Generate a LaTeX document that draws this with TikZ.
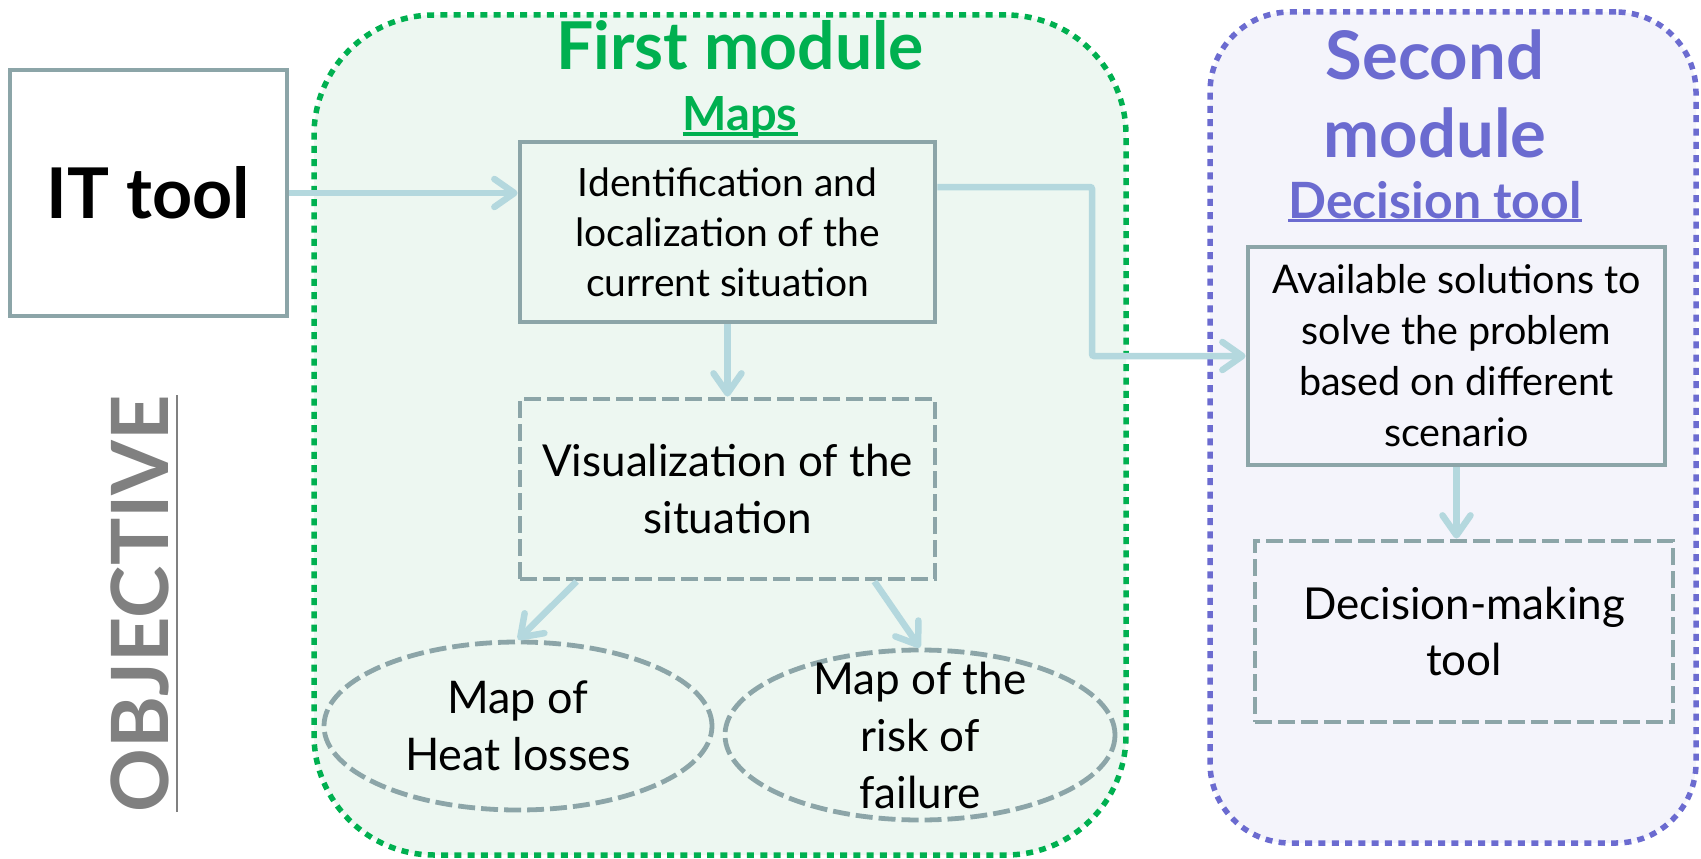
\documentclass[tikz,border=0pt]{standalone}
\usepackage{fontspec}
\setmainfont{Lato}
\usetikzlibrary{arrows.meta,shapes.geometric,calc}
\definecolor{modgreen}{HTML}{00B050}
\definecolor{greenfill}{HTML}{EDF7F1}
\definecolor{modpurple}{HTML}{6B6BD0}
\definecolor{purplefill}{HTML}{F4F4FB}
\definecolor{boxgray}{HTML}{8CA5A8}
\definecolor{arrowblue}{HTML}{B4D8DE}
\definecolor{objgray}{HTML}{808080}
\newcommand\ulx[3]{\setbox0=\hbox{#3}\leavevmode\rlap{\raisebox{-#1}{\rule{\wd0}{#2}}}\box0}
\newcommand\fs[2]{\fontsize{#1}{#2}\selectfont}
\begin{document}
\begin{tikzpicture}[x=1pt,y=-1pt,
  module/.style={rectangle, line width=5.5pt, dash pattern=on 7pt off 6.3pt, inner sep=0pt},
  solidbox/.style={draw=boxgray, line width=4.8pt, rectangle, inner sep=0pt, align=center, text=black},
  dashbox/.style={solidbox, dash pattern=on 17pt off 6pt},
  ellbox/.style={draw=boxgray, line width=4.8pt, ellipse, inner sep=0pt, dash pattern=on 17pt off 6pt},
  arr/.style={draw=arrowblue, line width=6.5pt, -{Straight Barb[length=20pt,width=28pt,round]}},
  title/.style={anchor=base, inner sep=0pt, font=\bfseries}
]
\useasboundingbox (0,0) rectangle (1701,859);
% modules
\node[module, draw=modgreen, fill=greenfill, rounded corners=120pt, minimum width=812pt, minimum height=840pt] (m1) at (720,435) {};
\node[module, draw=modpurple, fill=purplefill, rounded corners=80pt, minimum width=486pt, minimum height=831pt] (m2) at (1453,427.5) {};
% titles
\node[title, text=modgreen, font=\bfseries\fs{66}{70}] (t1) at (740,70) {First module};
\node[title, text=modgreen, font=\bfseries\fs{47}{50}] (t1b) at (740,130) {\ulx{0.12em}{0.07em}{Maps}};
\node[title, text=modpurple, font=\bfseries\fs{67}{70}] (t2a) at (1435,80) {Second};
\node[title, text=modpurple, font=\bfseries\fs{67}{70}] (t2b) at (1435,157) {module};
\node[title, text=modpurple, font=\bfseries\fs{50}{50}] (t2c) at (1435,218) {\ulx{0.08em}{0.06em}{Decision tool}};
% objective
\node[anchor=base, rotate=90, inner sep=0pt, text=objgray, font=\bfseries\fs{79}{80}] (obj) at (168,603.5) {\ulx{0.13em}{0.035em}{OBJECTIVE}};
% boxes
\node[solidbox, fill=white, minimum width=277pt, minimum height=246pt, font=\bfseries\fs{70}{70}] (it) at (148.5,193) {IT tool};
\node[solidbox, minimum width=415pt, minimum height=180pt, font=\fs{39}{50}] (ident) at (727.5,232) {Identification and\\localization of the\\current situation};
\node[dashbox, minimum width=415pt, minimum height=180pt, font=\fs{44}{57}] (vis) at (727.5,489) {Visualization of the\\situation};
\node[ellbox, minimum width=388pt, minimum height=168pt, label={[align=center, font=\fs{45}{57}]center:Map of\\Heat losses}] (el1) at (518,726) {};
\node[ellbox, minimum width=390pt, minimum height=170pt, label={[align=center, font=\fs{44}{57}]center:Map of the\\risk of\\failure}] (el2) at (920,735) {};
\node[solidbox, minimum width=417pt, minimum height=218pt, font=\fs{39.5}{51}] (avail) at (1456.5,356) {Available solutions to\\solve the problem\\based on different\\scenario};
\node[dashbox, minimum width=418pt, minimum height=181pt, font=\fs{44}{56}] (dec) at (1464,631.5) {Decision-making\\tool};
% connectors
\draw[arr] (it.east) -- (it.east -| ident.west);
\coordinate (elb) at (1092,187);
\draw[arr, rounded corners=2pt] (ident.east |- elb) -- (elb) -- (elb |- avail.west) -- (avail.west);
\draw[arr] (ident.south) -- (vis.north);
\draw[arr] ($(vis.south west)+(59,0)$) -- (el1.north);
\draw[arr] ($(vis.south east)+(-63,0)$) -- (el2.north);
\draw[arr] (avail.south) -- (avail.south |- dec.north);
\end{tikzpicture}
\end{document}
